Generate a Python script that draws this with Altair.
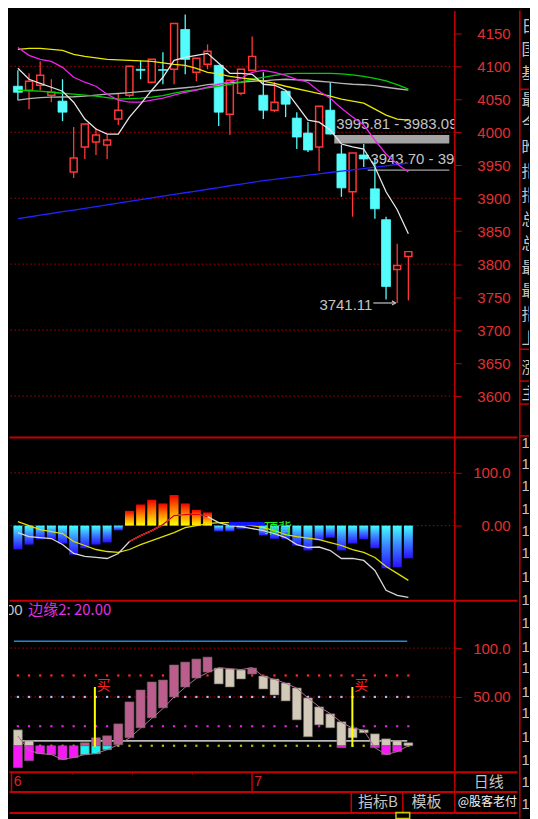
import altair as alt
import pandas as pd

# ---------------- data ----------------
days = list(range(36))

c_open = [4069.8, 4063.8, 4071.3, 4056.2, 4047.2, 3939.9, 3977.7, 3985.2, 3980.7, 4020.0,
          4056.2, 4095.5, 4075.9, 4095.0, 4095.5, 4155.9, 4091.0, 4103.0, 4101.5, 4027.5,
          4059.2, 4094.0, 4056.2, 4033.5, 4062.3, 4021.5, 3998.8, 3977.7, 4033.5, 3967.1,
          3909.7, 3965.6, 3914.2, 3867.4, 3791.9, 3811.5]
c_close = [4060.7, 4077.4, 4086.4, 4060.7, 4030.5, 3961.0, 4012.4, 3995.8, 3988.2, 4033.5,
           4100.0, 4094.0, 4110.6, 4094.0, 4165.0, 4110.6, 4112.1, 4122.7, 4030.5, 4078.9,
           4095.5, 4115.1, 4033.5, 4045.6, 4042.6, 3992.8, 3973.1, 4039.6, 3997.3, 3915.7,
           3968.6, 3959.5, 3884.0, 3766.2, 3797.9, 3819.0]
c_high = [4094.0, 4089.4, 4107.6, 4080.4, 4080.4, 4007.9, 4013.0, 4006.4, 3995.8, 4059.2,
          4101.0, 4109.1, 4111.0, 4121.2, 4165.5, 4178.6, 4112.5, 4133.3, 4102.0, 4079.5,
          4096.0, 4145.3, 4091.0, 4075.9, 4063.0, 4030.5, 4015.4, 4040.0, 4075.9, 3980.7,
          3969.0, 3982.2, 3959.5, 3871.9, 3831.1, 3819.5]
c_low = [4048.7, 4035.1, 4063.8, 4045.6, 4016.9, 3930.8, 3959.5, 3965.6, 3959.5, 4010.9,
         4053.0, 4080.4, 4074.5, 4072.8, 4072.8, 4087.9, 4077.4, 4095.5, 4009.4, 3995.8,
         4056.2, 4093.5, 4020.0, 4030.5, 4023.0, 3974.6, 3970.1, 3941.4, 3996.8, 3902.1,
         3871.9, 3947.4, 3868.9, 3746.5, 3741.11, 3745.0]

ma_white = [4097.0, 4080.4, 4074.3, 4068.3, 4062.3, 4045.6, 4020.0, 4004.9, 3997.3, 3997.3,
            4023.0, 4042.6, 4063.8, 4083.4, 4109.1, 4113.6, 4116.6, 4119.7, 4104.6, 4089.4,
            4089.4, 4087.9, 4072.8, 4071.3, 4063.8, 4041.1, 4018.4, 4015.4, 4003.3, 3982.2,
            3977.7, 3974.6, 3947.4, 3909.7, 3882.5, 3846.2]
ma_yellow = [4125.7, 4127.2, 4127.2, 4125.7, 4124.2, 4118.1, 4115.1, 4112.9, 4110.6, 4109.8,
             4109.1, 4108.3, 4107.6, 4105.3, 4103.0, 4101.5, 4097.0, 4091.0, 4088.7, 4084.9,
             4082.6, 4080.4, 4077.4, 4074.3, 4069.8, 4066.0, 4062.3, 4058.5, 4054.7, 4050.2,
             4047.2, 4044.1, 4035.1, 4026.0, 4020.0, 4018.4]
ma_magenta = [4128.7, 4116.6, 4110.6, 4107.6, 4098.5, 4083.4, 4075.9, 4069.8, 4057.7, 4048.7,
              4045.6, 4045.6, 4048.7, 4051.7, 4056.2, 4060.7, 4063.8, 4068.3, 4072.8, 4075.9,
              4081.9, 4091.0, 4094.0, 4091.0, 4086.4, 4080.4, 4075.9, 4062.3, 4051.7, 4036.6,
              4023.0, 4010.9, 3988.2, 3967.1, 3952.0, 3939.9]
ma_green = [4063.8, 4063.0, 4062.3, 4060.7, 4059.2, 4057.7, 4056.2, 4054.7, 4052.4, 4050.2,
            4050.9, 4051.7, 4053.2, 4055.5, 4059.2, 4062.3, 4064.5, 4067.5, 4069.8, 4072.8,
            4075.9, 4080.4, 4083.4, 4086.4, 4088.7, 4089.4, 4089.4, 4089.4, 4089.4, 4088.7,
            4087.2, 4084.9, 4081.9, 4078.1, 4072.1, 4065.3]
ma_gray = [4048.7, 4050.9, 4052.4, 4053.2, 4053.5, 4053.9, 4054.7, 4056.2, 4057.7, 4058.8,
           4060.0, 4061.5, 4063.0, 4064.5, 4066.0, 4067.5, 4069.1, 4072.1, 4073.6, 4075.1,
           4075.9, 4077.4, 4078.1, 4079.6, 4080.4, 4079.6, 4078.9, 4077.4, 4075.9, 4074.3,
           4072.8, 4072.1, 4070.6, 4068.3, 4066.0, 4063.8]
ma_blue = [3868.9, 3871.5, 3874.2, 3876.8, 3879.5, 3882.0, 3884.6, 3887.3, 3889.9, 3892.6,
           3895.2, 3897.7, 3900.5, 3903.0, 3905.8, 3908.3, 3910.9, 3913.6, 3916.2, 3918.9,
           3921.5, 3924.0, 3926.8, 3928.7, 3930.8, 3932.8, 3934.9, 3936.9, 3939.0, 3941.0,
           3942.9, 3945.0, 3947.0, 3949.1, 3951.1, 3953.2]

price_ticks = [4150, 4100, 4050, 4000, 3950, 3900, 3850, 3800, 3750, 3700, 3650, 3600]
price_grid = [4100, 4000, 3900, 3800, 3700, 3600]

gap_low = [3983.09, 3941.50]
gap_high = [3995.81, 3943.70]
gap_start = [28.36, 31.35]
gap_text = ["3995.81 - 3983.09", "3943.70 - 3941.50"]
gap_text_day = [28.53, 31.60]
gap_text_price = [4013.0, 3958.8]

low_mark_text = "3741.11"
low_mark_value = 3741.11

macd_hist = [-45, -36, -26, -26, -34, -55, -43, -36, -32, -9, 28, 40, 49, 42, 58, 42, 30, 25,
             -11, -11, -6, -1, -19, -25, -25, -38, -47, -28, -23, -47, -34, -26, -43, -81, -79, -62]
macd_dif = [-13.2, -20.8, -22.6, -24.5, -35.9, -52.8, -58.5, -60.4, -62.3, -52.8, -30.2, -18.9,
            -9.4, 1.9, 18.9, 20.8, 21.7, 17.0, 5.7, 0.0, -1.9, -5.7, -9.4, -15.1, -22.6, -35.9,
            -41.5, -40.6, -47.2, -62.3, -62.3, -66.0, -84.9, -122.6, -132.1, -135.9]
macd_dea = [7.5, 0.0, -7.5, -11.3, -15.1, -30.2, -37.7, -45.3, -49.1, -50.9, -45.3, -35.9,
            -28.3, -20.8, -13.2, -3.8, 0.0, 3.8, 5.7, 5.7, 3.8, 0.0, -3.8, -9.4, -17.0, -20.8,
            -23.6, -26.4, -32.1, -37.7, -45.3, -50.9, -60.4, -77.4, -90.6, -103.8]

kd_hi = [16.3, 5.1, 0, 0, 0, 0, 3.1, 8.2, 10.2, 22.4, 44.9, 57.1, 65.3, 67.3, 82.7, 85.7, 88.8,
         90.8, 79.6, 78.6, 77.6, 79.6, 71.4, 68.4, 64.3, 59.2, 49.0, 39.8, 32.7, 24.5, 18.4,
         16.3, 12.2, 7.1, 5.1, 3.1]
kd_lo = [-22.4, -15.3, -8.2, -9.2, -14.3, -12.2, -9.2, -8.2, -4.1, 1.0, 8.2, 18.4, 28.6, 38.8,
         50.0, 60.2, 69.4, 75.5, 63.3, 60.2, 68.4, 73.5, 58.2, 52.0, 45.9, 26.5, 9.2, 21.4, 18.4,
         -2.0, 8.2, 13.3, -2.0, -9.2, -6.1, 0.0]
kd_trend = (["down"] * 6 + ["up"] * 12 + ["down"] * 3 + ["up"] + ["down"] * 14)
kd_line = [10, -5, -8, -9, -14, -12, -9, -8, -4, 1, 8, 18, 28, 38, 50, 60, 69, 75, 80, 79, 78,
           80, 71, 68, 64, 59, 49, 40, 33, 24, 18, 16, -2, -9, -6, 0]
kd_levels = [72, 50, 20, 0]
kd_level_colors = ["#ff2a2a", "#b4b4f0", "#e020e0", "#bcbc00"]
buy_days = [6.9, 29.98]

month_labels = ["6", "7"]
month_days = [-0.13, 20.95]
week_ticks = [5.25, 10.48, 15.72]
tab_labels = ["指标B", "模板"]
tab_days = [30.24, 34.92]
tab_seps = [29.64, 34.16]

side_chars = ["日", "国", "基", "最", "今", "昨", "指", "指", "总", "总", "最", "最", "指", "上", "涨", "主"]
side_rows = [25, 48, 72, 98, 122, 146, 170, 194, 218, 242, 266, 290, 314, 338, 367, 393]
side_num_rows = [442, 463, 485, 508, 530, 553, 577, 600, 623, 647, 668, 692, 713, 737, 760, 782, 805]
side_lines = [87, 348, 380, 403, 435]

# ---------------- styling ----------------
RED = "#ff3636"
CYAN = "#55fcfc"
AXRED = "#e23030"
SEP = "#c40000"
GRIDC = "#b00000"
GRAYT = "#c4c4c4"
NUM = "Liberation Sans"
CJK = "Noto Sans CJK SC"
W = 447
SIDE_W = 10
X_DOM = [-0.35, 38.67]

XS = alt.Scale(domain=X_DOM, nice=False, zero=False)
XAX = alt.Axis(labels=False, ticks=False, grid=False, domain=True, domainColor=SEP,
               domainWidth=2, title=None)


def X(field="day", axis=True):
    return alt.X(f"{field}:Q", scale=XS, axis=XAX if axis else None)


def C(field):
    return alt.Color(f"{field}:N", scale=None, legend=None)


def right_axis(values, expr, long_val, pad=49, align="right", font=NUM, fsize=15,
               color=AXRED, base_tick=7):
    test = f"datum.value == {long_val}"
    return alt.Axis(
        values=values, labelExpr=expr, orient="right", grid=False, title=None,
        domain=True, domainColor=SEP, domainWidth=1.5,
        ticks=True, tickColor=SEP,
        tickSize={"condition": {"test": test, "value": 63}, "value": base_tick},
        tickWidth={"condition": {"test": test, "value": 2}, "value": 1},
        labelPadding={"condition": {"test": test, "value": -60}, "value": pad},
        labelFontSize={"condition": {"test": test, "value": 1}, "value": fsize},
        labelColor=color, labelFont=font, labelAlign=align,
        labelOverlap=False, minExtent=63, maxExtent=63)


# ---------------- candle panel ----------------
P_MIN, P_MAX = 3538, 4184.6
YS_P = alt.Scale(domain=[P_MIN, P_MAX], nice=False, zero=False)
AX_P = right_axis(price_ticks + [P_MIN], f"datum.value == {P_MIN} ? '' : format(datum.value, 'd')", P_MIN)


def YP(field):
    return alt.Y(f"{field}:Q", scale=YS_P, axis=AX_P)


cdf = pd.DataFrame(dict(day=days, open=c_open, close=c_close, high=c_high, low=c_low))
cdf["dir"] = ["up" if c >= o else "down" for o, c in zip(c_open, c_close)]
cdf["col"] = [RED if d == "up" else CYAN for d in cdf["dir"]]

grid_p = alt.Chart(pd.DataFrame(dict(p=price_grid))).mark_rule(
    color=GRIDC, strokeDash=[1.5, 2.5], strokeWidth=1).encode(y=YP("p"))

gaps = pd.DataFrame(dict(x=gap_start, x2=[X_DOM[1]] * 2, lo=gap_low, hi=gap_high))
gap_rect = alt.Chart(gaps).mark_rect(color="#a4a4a4", clip=True).encode(
    x=X("x"), x2="x2:Q", y=YP("lo"), y2="hi:Q")
gap_lbl = alt.Chart(pd.DataFrame(dict(x=gap_text_day, y=gap_text_price, t=gap_text))).mark_text(
    align="left", baseline="middle", font=NUM, fontSize=15, color=GRAYT, clip=True).encode(
    x=X("x"), y=YP("y"), text="t:N")

ma_colors = ["#2222ff", "#b4b4b4", "#00d000", "#e8e800", "#ee22ee", "#e6e6e6"]
ma_vals = [ma_blue, ma_gray, ma_green, ma_yellow, ma_magenta, ma_white]
ma_df = pd.concat([pd.DataFrame(dict(day=days, v=v, s=col))
                   for col, v in zip(ma_colors, ma_vals)])
ma_lines = alt.Chart(ma_df).mark_line(strokeWidth=1.3, clip=True).encode(
    x=X(), y=YP("v"), color=C("s"), detail="s:N")

wicks = alt.Chart(cdf).mark_rule(strokeWidth=1.3).encode(
    x=X(), y=YP("low"), y2="high:Q", color=C("col"))
body_up = alt.Chart(cdf).transform_filter("datum.dir == 'up'").mark_bar(
    size=7, fill="black", stroke=RED, strokeWidth=1.5).encode(x=X(), y=YP("open"), y2="close:Q")
body_dn = alt.Chart(cdf).transform_filter("datum.dir == 'down'").mark_bar(
    size=9, color=CYAN, stroke=CYAN, strokeWidth=0.8).encode(x=X(), y=YP("open"), y2="close:Q")

low_df = pd.DataFrame(dict(x=[31.77], x1=[31.86], x2=[33.85], y=[low_mark_value - 2.5],
                           v=[low_mark_value], t=[low_mark_text]))
low_txt = alt.Chart(low_df).mark_text(align="right", baseline="middle", font=NUM, fontSize=15,
                                      color=GRAYT).encode(x=X("x"), y=YP("y"), text="t:N")
low_arrow = alt.Chart(low_df).mark_rule(color=GRAYT, strokeWidth=1.2).encode(
    x=X("x1"), x2="x2:Q", y=YP("v"))
low_head = alt.Chart(low_df).mark_point(shape="M-1,-0.6L0,0L-1,0.6", filled=False, color=GRAYT,
                                        size=50, strokeWidth=1.2, opacity=1).encode(
    x=X("x2"), y=YP("v"))

candle = alt.layer(grid_p, gap_rect, gap_lbl, wicks, body_up, body_dn, ma_lines,
                   low_arrow, low_head, low_txt).properties(width=W, height=428)

# ---------------- MACD panel ----------------
M_MIN, M_MAX = -141.5, 168
YS_M = alt.Scale(domain=[M_MIN, M_MAX], nice=False, zero=False)
AX_M = right_axis([100, 0, M_MIN], "datum.value == 100 ? '100.0' : (datum.value == 0 ? '0.00' : '')", M_MIN)


def YM(field):
    return alt.Y(f"{field}:Q", scale=YS_M, axis=AX_M)


mdf = pd.DataFrame(dict(day=days, h=macd_hist, dif=macd_dif, dea=macd_dea, z=[0] * 36))
grid_m = alt.Chart(pd.DataFrame(dict(p=[100, 0]))).mark_rule(
    color=GRIDC, strokeDash=[1.5, 2.5]).encode(y=YM("p"))
g_neg = alt.LinearGradient(gradient="linear", x1=0, x2=0, y1=0, y2=1, stops=[
    alt.GradientStop(color="#44ffff", offset=0), alt.GradientStop(color="#3a7dff", offset=0.5),
    alt.GradientStop(color="#2a10ff", offset=1)])
g_pos = alt.LinearGradient(gradient="linear", x1=0, x2=0, y1=0, y2=1, stops=[
    alt.GradientStop(color="#ee0000", offset=0), alt.GradientStop(color="#ff8800", offset=0.5),
    alt.GradientStop(color="#ffff00", offset=1)])
bar_neg = alt.Chart(mdf).transform_filter("datum.h < 0").mark_bar(size=9, color=g_neg).encode(
    x=X(), y=YM("h"), y2="z:Q")
bar_pos = alt.Chart(mdf).transform_filter("datum.h > 0").mark_bar(size=9, color=g_pos).encode(
    x=X(), y=YM("h"), y2="z:Q")
dea_line = alt.Chart(mdf).mark_line(color="#e0e000", strokeWidth=1.3).encode(x=X(), y=YM("dea"))
dif_line = alt.Chart(mdf).mark_line(color="#d8d8d8", strokeWidth=1.3).encode(x=X(), y=YM("dif"))
dif_red = alt.Chart(mdf[(mdf.day >= 10) & (mdf.day <= 17)]).mark_line(
    color="#e00000", strokeWidth=1.3).encode(x=X(), y=YM("dif"))
sig_df = pd.DataFrame(dict(x=[18.91], x2=[22.15], y=[0], y2=[7], tx=[22.06], ty=[-5.7], t=["顶背"]))
sig_rect = alt.Chart(sig_df).mark_rect(color="#1414ff").encode(x=X("x"), x2="x2:Q", y=YM("y"), y2="y2:Q")
sig_txt = alt.Chart(sig_df).mark_text(align="left", baseline="middle", font=CJK, fontSize=14,
                                      color="#22ee22").encode(x=X("tx"), y=YM("ty"), text="t:N")
macd = alt.layer(grid_m, bar_neg, bar_pos, dea_line, dif_line, dif_red, sig_rect, sig_txt).properties(
    width=W, height=164)

# ---------------- KD panel ----------------
K_MIN, K_MAX = -26.5, 149
YS_K = alt.Scale(domain=[K_MIN, K_MAX], nice=False, zero=False)
AX_K = right_axis([100, 50, K_MIN], "datum.value == 100 ? '100.0' : (datum.value == 50 ? '50.00' : '')", K_MIN)


def YK(field):
    return alt.Y(f"{field}:Q", scale=YS_K, axis=AX_K)


kdf = pd.DataFrame(dict(day=days, hi=kd_hi, lo=kd_lo, trend=kd_trend, ln=kd_line))
upper = kdf[kdf.hi > 0].copy()
upper["a"] = upper.lo.clip(lower=0)
upper["b"] = upper.hi
upper["c"] = upper.trend.map({"up": "#bb5e8e", "down": "#d2c9b8"})
lower = kdf[kdf.lo < 0].copy()
lower["a"] = lower.lo
lower["b"] = lower.hi.clip(upper=0)
lower["c"] = lower.trend.map({"up": "#19f5f5", "down": "#f51af5"})
parts = pd.concat([upper, lower])

grid_k = alt.Chart(pd.DataFrame(dict(p=[100, 50]))).mark_rule(
    color=GRIDC, strokeDash=[1.5, 2.5]).encode(y=YK("p"))
ref_df = pd.DataFrame(dict(x=[X_DOM[0], X_DOM[0]], x2=[34.9, 34.9], y=[107, 5],
                           c=["#1e8ad8", "#b8b8b8"]))
ref_lines = alt.Chart(ref_df).mark_rule(strokeWidth=1.6).encode(
    x=X("x"), x2="x2:Q", y=YK("y"), color=C("c"))
dots_df = pd.concat([pd.DataFrame(dict(day=days, y=lv, c=col))
                     for lv, col in zip(kd_levels, kd_level_colors)])
dots = alt.Chart(dots_df).mark_square(size=5, opacity=1).encode(x=X(), y=YK("y"), color=C("c"))
kd_bars = alt.Chart(parts).mark_bar(size=9, stroke="#6a6460", strokeWidth=0.6).encode(
    x=X(), y=YK("a"), y2="b:Q", color=C("c"))
kd_ln = alt.Chart(kdf).mark_line(color="#a87090", strokeWidth=1).encode(x=X(), y=YK("ln"))
buy_df = pd.DataFrame(dict(x=buy_days, tx=[d + 0.17 for d in buy_days], y=[-1] * 2, y2=[60.2] * 2,
                           ty=[60.7] * 2, t=["买"] * 2))
buy_ln = alt.Chart(buy_df).mark_rule(color="#ffff00", strokeWidth=2).encode(x=X("x"), y=YK("y"), y2="y2:Q")
buy_tx = alt.Chart(buy_df).mark_text(align="left", baseline="middle", font=CJK, fontSize=14,
                                     color="#ff2020").encode(x=X("tx"), y=YK("ty"), text="t:N")
hdr_df = pd.DataFrame(dict(x=[0.43, 0.94], y=[138.8, 138.8], t=["00", "边缘2: 20.00"],
                           a=["r", "m"]))
hdr1 = alt.Chart(hdr_df[hdr_df.a == "r"]).mark_text(align="right", baseline="middle", font=NUM,
                                                    fontSize=15, color=GRAYT, clip=True).encode(
    x=X("x"), y=YK("y"), text="t:N")
hdr2 = alt.Chart(hdr_df[hdr_df.a == "m"]).mark_text(align="left", baseline="middle", font=CJK,
                                                    fontSize=15, color="#e030e0").encode(
    x=X("x"), y=YK("y"), text="t:N")
kdp = alt.layer(grid_k, ref_lines, dots, kd_bars, kd_ln, buy_ln, buy_tx, hdr1, hdr2).properties(
    width=W, height=172)

# ---------------- date bar ----------------
YS_U = alt.Scale(domain=[0, 1], nice=False, zero=False)
AX_D = right_axis([0.5, 0], "datum.value == 0.5 ? '日线' : ''", 0, pad=19, align="left",
                  font=CJK, fsize=15, color=GRAYT, base_tick=0)


def YD(field):
    return alt.Y(f"{field}:Q", scale=YS_U, axis=AX_D)


mdays = pd.DataFrame(dict(x=month_days, tx=[d + 0.2 for d in month_days], t=month_labels,
                          y=[0] * 2, y2=[1] * 2, ty=[0.5] * 2))
m_rule = alt.Chart(mdays).mark_rule(color=SEP, strokeWidth=1.5).encode(x=X("x"), y=YD("y"), y2="y2:Q")
m_txt = alt.Chart(mdays).mark_text(align="left", baseline="middle", font=NUM, fontSize=14,
                                   color="#e02020").encode(x=X("tx"), y=YD("ty"), text="t:N")
wk = alt.Chart(pd.DataFrame(dict(x=week_ticks, y=[0.85] * 3, y2=[1] * 3))).mark_rule(
    color=SEP, strokeWidth=1).encode(x=X("x"), y=YD("y"), y2="y2:Q")
datebar = alt.layer(m_rule, wk, m_txt).properties(width=W, height=20)

# ---------------- bottom tab bar ----------------
AX_B = right_axis([0.5, 0], "datum.value == 0.5 ? '@股客老付' : ''", 0, pad=3, align="left",
                  font=CJK, fsize=12, color="#f2f2f2", base_tick=0)


def YB(field):
    return alt.Y(f"{field}:Q", scale=YS_U, axis=AX_B)


tabs = pd.DataFrame(dict(x=tab_days, y=[0.5] * 2, t=tab_labels))
seps = pd.DataFrame(dict(x=tab_seps, y=[0] * 2, y2=[1] * 2))
t_sep = alt.Chart(seps).mark_rule(color=SEP, strokeWidth=1.5).encode(x=X("x"), y=YB("y"), y2="y2:Q")
t_txt = alt.Chart(tabs).mark_text(align="left", baseline="middle", font=CJK, fontSize=15,
                                  color=GRAYT).encode(x=X("x"), y=YB("y"), text="t:N")
tabbar = alt.layer(t_sep, t_txt).properties(width=W, height=21)

# ---------------- bottom strip ----------------
strip_df = pd.DataFrame(dict(x=[33.56], x2=[34.76], y=[0.0], y2=[1.0]))
strip = alt.Chart(strip_df).mark_rect(filled=False, stroke="#c8c800", strokeWidth=1.5).encode(
    x=alt.X("x:Q", scale=XS, axis=None), x2="x2:Q",
    y=alt.Y("y:Q", scale=YS_U, axis=None), y2="y2:Q").properties(width=W, height=6)

# ---------------- side info column ----------------
YS_S = alt.Scale(domain=[8, 819], reverse=True, nice=False, zero=False)
XS_S = alt.Scale(domain=[0, 1], nice=False, zero=False)
side_txt = alt.Chart(pd.DataFrame(dict(x=[0.25] * len(side_chars), y=side_rows, t=side_chars))).mark_text(
    align="left", baseline="middle", font=CJK, fontSize=16, color=GRAYT, clip=True).encode(
    x=alt.X("x:Q", scale=XS_S, axis=None), y=alt.Y("y:Q", scale=YS_S, axis=None), text="t:N")
side_num = alt.Chart(pd.DataFrame(dict(x=[0.25] * len(side_num_rows), y=side_num_rows,
                                       t=["11"] * len(side_num_rows)))).mark_text(
    align="left", baseline="middle", font=NUM, fontSize=15, color=GRAYT, clip=True).encode(
    x=alt.X("x:Q", scale=XS_S, axis=None), y=alt.Y("y:Q", scale=YS_S, axis=None), text="t:N")
side_h = alt.Chart(pd.DataFrame(dict(y=side_lines))).mark_rule(color=SEP, strokeWidth=1.5).encode(
    y=alt.Y("y:Q", scale=YS_S, axis=None))
side_v = alt.Chart(pd.DataFrame(dict(x=[0.08], y=[8], y2=[819]))).mark_rule(
    color=SEP, strokeWidth=1.5).encode(
    x=alt.X("x:Q", scale=XS_S, axis=None), y=alt.Y("y:Q", scale=YS_S, axis=None), y2="y2:Q")
side = alt.layer(side_h, side_v, side_txt, side_num).properties(width=SIDE_W, height=811)

left = alt.vconcat(candle, macd, kdp, datebar, tabbar, strip, spacing=0, bounds="flush")
chart = alt.hconcat(left, side, spacing=0).properties(padding=0).configure(
    background="black").configure_view(strokeWidth=0)

chart.save("out.html", embed_options={"renderer": "svg", "actions": False})
